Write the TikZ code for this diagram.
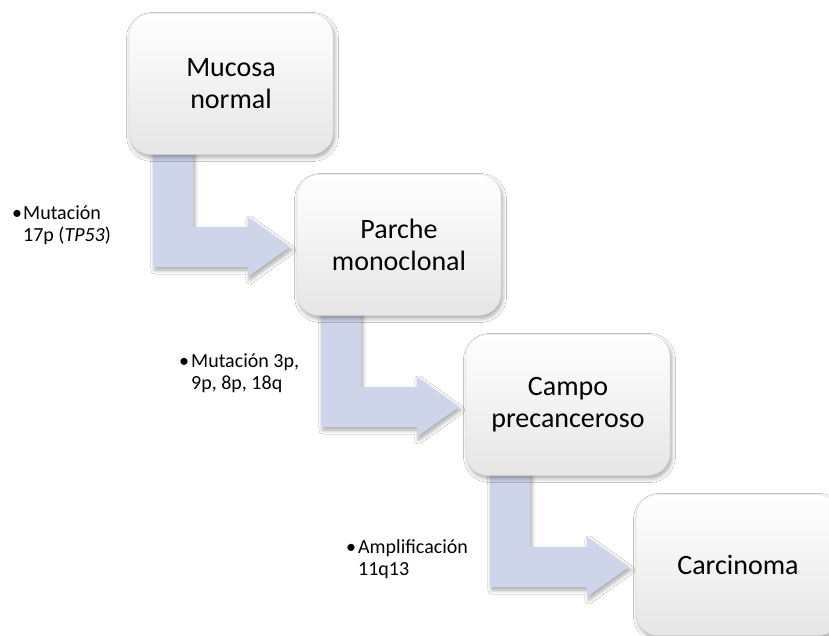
\documentclass[tikz,border=0pt]{standalone}
\usepackage{fontspec}
\setmainfont{Carlito}
\usetikzlibrary{calc,shadows.blur}
\pgfdeclarelayer{bg}
\pgfsetlayers{bg,main}
\definecolor{arrowfill}{RGB}{206,212,234}
\definecolor{boxline}{RGB}{218,218,218}
\tikzset{
  stagebox/.style={rounded corners=22pt, minimum width=204pt, minimum height=141pt,
    inner sep=4pt, top color=white, bottom color=black!10, draw=boxline, line width=0.4pt,
    align=center, font=\fontsize{28}{32}\selectfont,
    blur shadow={shadow xshift=1.5pt, shadow yshift=-3pt, shadow blur steps=8, shadow opacity=35, shadow blur radius=4pt}},
  flowarrow/.style={fill=arrowfill,
    blur shadow={shadow xshift=2pt, shadow yshift=-3pt, shadow blur steps=8, shadow opacity=35, shadow blur radius=4pt}},
  steplabel/.style={anchor=base west, inner sep=0pt, font=\fontsize{20}{22}\selectfont}
}
\newcommand{\bendarrow}[2]{%
  \coordinate (s) at ($(#1.south west)+(24,-10)$);
  \coordinate (e) at ($(#2.west)+(-7,2)$);
  \path[flowarrow] (s) -- ++(40,0) |- ($(e)+(-42,-20)$) -- ++(0,-10) -- (e)
    -- ($(e)+(-42,30)$) -- ++(0,-10) -| (s) -- cycle;
}
\begin{document}
\begin{tikzpicture}[x=1pt,y=-1pt]
\useasboundingbox (0,0) rectangle (829,635);
% boxes
\node[stagebox] (b1) at (231,84) {Mucosa\\normal};
\node[stagebox] (b2) at (399,245) {Parche\\monoclonal};
\node[stagebox] (b3) at (568,405) {Campo\\precanceroso};
\node[stagebox] (b4) at (738,565) {Carcinoma};
% arrows behind the boxes
\begin{pgfonlayer}{bg}
\fill[white] (0,0) rectangle (829,635);
\bendarrow{b1}{b2}
\bendarrow{b2}{b3}
\bendarrow{b3}{b4}
\end{pgfonlayer}
% labels
\node[steplabel] (l1) at (12,219) {\begin{tabular}[t]{@{}l@{\hspace{1pt}}l@{}}•&Mutación\\&17p (\textit{TP53})\end{tabular}};
\node[steplabel] (l2) at (179,367) {\begin{tabular}[t]{@{}l@{\hspace{2pt}}l@{}}•&Mutación 3p,\\&9p, 8p, 18q\end{tabular}};
\node[steplabel] (l3) at (346,553) {\begin{tabular}[t]{@{}l@{\hspace{2pt}}l@{}}•&Amplificación\\&11q13\end{tabular}};
\end{tikzpicture}
\end{document}
